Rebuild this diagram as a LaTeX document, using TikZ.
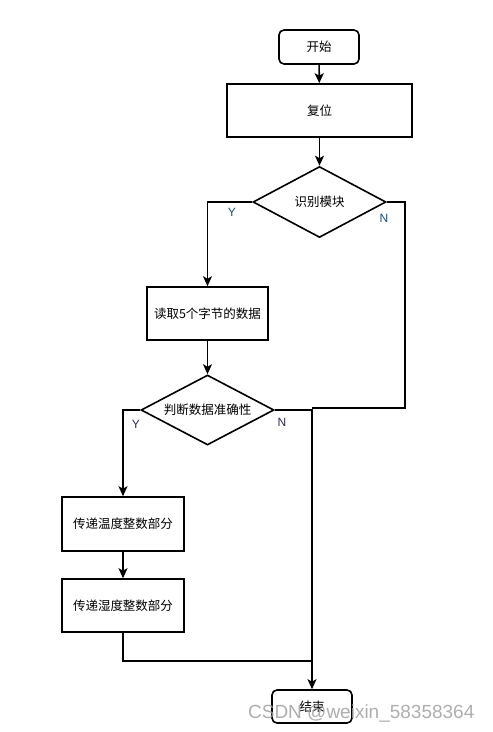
\documentclass[tikz,border=0pt]{standalone}
\usepackage{fontspec}
\usepackage{xcolor}
\usepackage{tikz}
\usetikzlibrary{arrows.meta,positioning,calc,shapes.geometric}
\setsansfont{Liberation Sans}
\newfontfamily\cjk{Noto Sans CJK SC}
\definecolor{ynblue}{HTML}{1A4A8C}
\definecolor{yndark}{HTML}{2A2A5A}
\definecolor{wmark}{HTML}{A0A0A0}

\begin{document}
\begin{tikzpicture}[x=1pt, y=-1pt,
  font=\cjk\fontsize{12.5}{15}\selectfont, >={Stealth[length=10pt,width=9pt,inset=2.5pt]},
  every path/.style={line width=1.6pt},
  blk/.style={draw, line width=1.6pt, align=center, inner sep=0pt, fill=white},
  term/.style={blk, rounded corners=5pt},
  dec/.style={blk, diamond, aspect=1.87, inner sep=0pt},
  yn/.style={font=\sffamily\fontsize{12}{14}\selectfont}]
\useasboundingbox (0,0) rectangle (493,732);
\node[term, minimum width=80pt, minimum height=34pt] (st) at (319,47) {开始};
\node[blk, minimum width=185pt, minimum height=53pt] (rst) at (319.5,110.5) {复位};
\node[dec, minimum width=133pt, minimum height=71pt] (id) at (319.5,202) {识别模块};
\node[blk, minimum width=121pt, minimum height=53pt] (rd) at (207.5,313.5) {读取5个字节的数据};
\node[dec, minimum width=133pt, minimum height=70pt] (jd) at (207.5,410) {判断数据准确性};
\node[blk, minimum width=122pt, minimum height=54pt] (tp) at (123,524) {传递温度整数部分};
\node[blk, minimum width=122pt, minimum height=53pt] (hm) at (123,605.5) {传递湿度整数部分};
\node[term, minimum width=80pt, minimum height=33pt] (ed) at (312,706.5) {结束};
\coordinate (nr) at (405,408);
\coordinate (nj) at (312,408);
\coordinate (hj) at (312,661);
\draw[->] (st) -- (rst);
\draw[->] (rst) -- (id);
\draw[->] (id.west) -| (rd.north);
\draw (id.east) -| (nr) -- (nj);
\draw[->] (rd) -- (jd);
\draw[->] (jd.west) -| (tp.north);
\draw[->] (jd.east) -| (ed.north);
\draw[->] (tp) -- (hm);
\draw (hm.south) |- (hj);
\node[yn, text=ynblue] (y1) at (232,212) {Y};
\node[yn, text=ynblue] (n1) at (384,218) {N};
\node[yn, text=yndark] (y2) at (136,424) {Y};
\node[yn, text=yndark] (n2) at (282,422) {N};
\node[font=\sffamily\fontsize{19}{22}\selectfont, text=wmark, text opacity=0.85, anchor=west] (wm) at (244,713) {CSDN @weixin\_58358364};
\end{tikzpicture}
\end{document}
